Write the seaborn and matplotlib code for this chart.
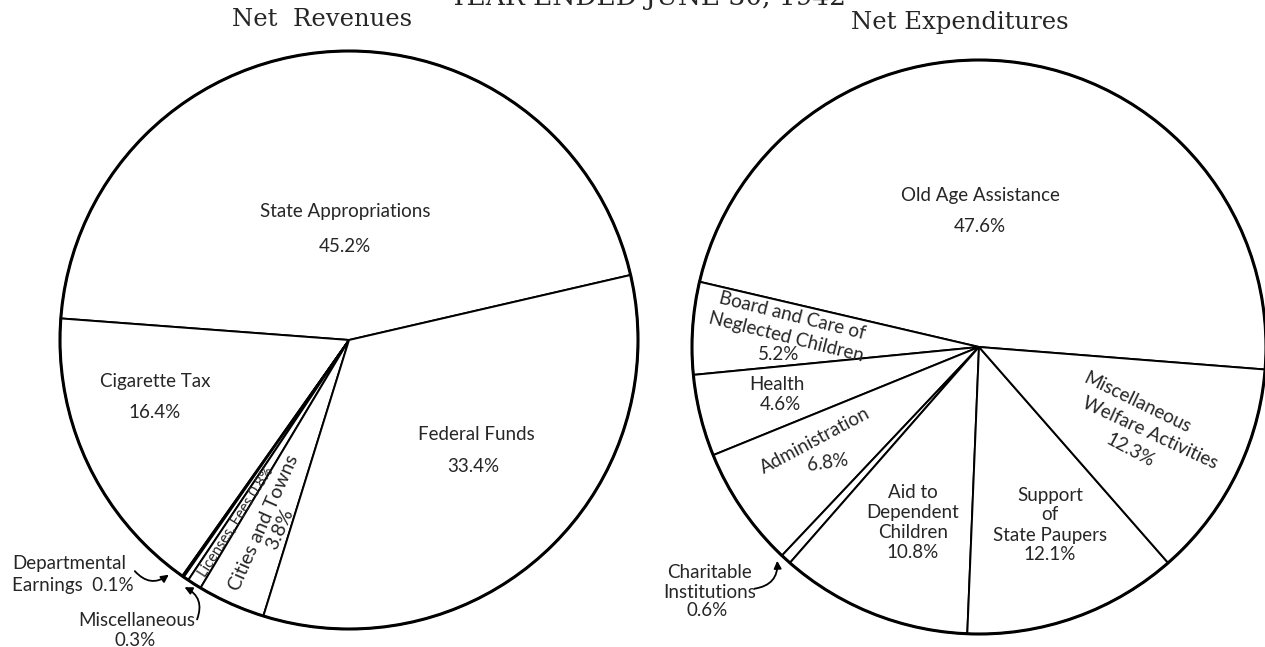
import matplotlib
matplotlib.use("Agg")
import matplotlib.pyplot as plt
import seaborn as sns
from matplotlib.patches import Circle

# ---- data ----
rev_labels = ["State Appropriations", "Cigarette Tax", "Departmental Earnings",
              "Miscellaneous", "Licenses, Fees", "Cities and Towns", "Federal Funds"]
rev_values = [45.2, 16.4, 0.1, 0.3, 0.8, 3.8, 33.4]

exp_labels = ["Old Age Assistance", "Board and Care of Neglected Children", "Health",
              "Administration", "Charitable Institutions", "Aid to Dependent Children",
              "Support of State Paupers", "Miscellaneous Welfare Activities"]
exp_values = [47.6, 5.2, 4.6, 6.8, 0.6, 10.8, 12.1, 12.3]

title_text = "YEAR ENDED JUNE 30, 1942"
left_title = "Net  Revenues"
right_title = "Net Expenditures"

sns.set_theme(style="white")
plt.rcParams["font.family"] = ["Lato", "DejaVu Sans"]

W, H = 1265, 647
fig = plt.figure(figsize=(W / 100, H / 100), dpi=100)
ax = fig.add_axes([0, 0, 1, 1])


def Y(py):
    return H - py


LC = (349, Y(340)); LR = 289
RC = (979, Y(347)); RR = 287

wp = dict(facecolor="white", edgecolor="black", linewidth=1.4)
ax.pie(rev_values, startangle=13, counterclock=True, center=LC, radius=LR,
       wedgeprops=wp)
ax.pie(exp_values, startangle=-4.5, counterclock=True, center=RC, radius=RR,
       wedgeprops=wp)
ax.add_patch(Circle(LC, LR, fill=False, lw=2.2, ec="black", zorder=5))
ax.add_patch(Circle(RC, RR, fill=False, lw=2.2, ec="black", zorder=5))

ax.set_xlim(0, W)
ax.set_ylim(0, H)
ax.set_aspect("equal")
ax.axis("off")

serif = ["DejaVu Serif"]
ax.text(648, Y(-3), title_text, ha="center", va="center", fontsize=19,
        family=serif)
ax.text(322, Y(20), left_title, ha="center", va="center", fontsize=17.5, family=serif)
ax.text(960, Y(22), right_title, ha="center", va="center", fontsize=17.5, family=serif)

fs = 13.5


def t(x, y, s, rot=0, size=fs, ha="center", ls=1.2):
    ax.text(x, Y(y), s, ha=ha, va="center", rotation=rot, fontsize=size,
            rotation_mode="anchor", multialignment="center", linespacing=ls)


# left pie labels
t(345, 212, rev_labels[0])
t(345, 246, f"{rev_values[0]}%")
t(155, 381, rev_labels[1])
t(155, 413, f"{rev_values[1]}%")
t(476, 435, rev_labels[6])
t(473, 467, f"{rev_values[6]}%")
t(236, 522, f"{rev_labels[4]} {rev_values[4]}%", rot=57.5, size=10.5)
t(272, 526, f"{rev_labels[5]}\n{rev_values[5]}%", rot=66, size=14, ls=1.05)
t(12, 563, "Departmental", ha="left")
t(12, 585, f"Earnings  {rev_values[2]}%", ha="left")
t(137, 620, rev_labels[3])
t(135, 640, f"{rev_values[3]}%")

arrow = dict(arrowstyle="-|>", color="black", lw=1.3, mutation_scale=11)
ax.annotate("", xy=(171, Y(573)), xytext=(133, Y(569)),
            arrowprops=dict(arrow, connectionstyle="arc3,rad=0.5"))
ax.annotate("", xy=(182, Y(586)), xytext=(196, Y(622)),
            arrowprops=dict(arrow, connectionstyle="arc3,rad=0.5"))

# right pie labels
t(980, 195, exp_labels[0])
t(980, 226, f"{exp_values[0]}%")
t(792, 316, "Board and Care of", rot=-14, size=13.5)
t(786, 337, "Neglected Children", rot=-14, size=13.5)
t(779, 355, f"{exp_values[1]}%")
t(777, 384, exp_labels[2])
t(780, 405, f"{exp_values[2]}%")
t(815, 441, exp_labels[3], rot=28)
t(828, 463, f"{exp_values[3]}%", rot=8)
for i, s in enumerate(["Aid to", "Dependent", "Children", f"{exp_values[5]}%"]):
    t(913, 492 + 20.3 * i, s)
for i, s in enumerate(["Support", "of", "State Paupers", f"{exp_values[6]}%"]):
    t(1050, 495 + 20 * i, s)
t(1137, 403, "Miscellaneous", rot=-26)
t(1150, 433, "Welfare Activities", rot=-25)
t(1130, 450, f"{exp_values[7]}%", rot=-28)
t(709, 572, "Charitable")
t(710, 592, "Institutions")
t(707, 611, f"{exp_values[4]}%")
ax.annotate("", xy=(777, Y(558)), xytext=(752, Y(589)),
            arrowprops=dict(arrow, connectionstyle="arc3,rad=0.5"))

fig.savefig("out.png", dpi=100)
